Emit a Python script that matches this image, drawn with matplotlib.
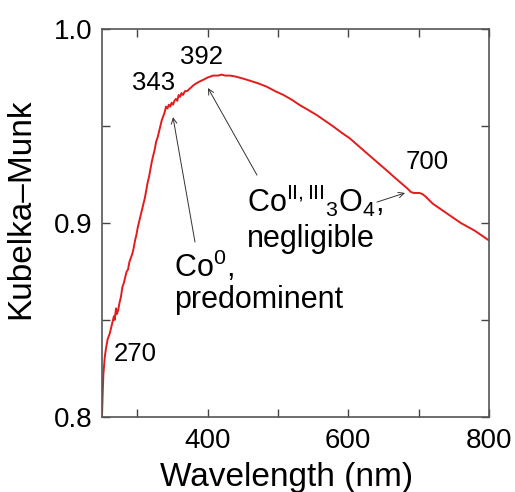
import matplotlib
import matplotlib.pyplot as plt

matplotlib.use("Agg")

plt.rcParams["font.family"] = ["Liberation Sans", "DejaVu Sans"]
plt.rcParams["mathtext.fontset"] = "custom"
plt.rcParams["mathtext.rm"] = "Liberation Sans"
plt.rcParams["mathtext.it"] = "Liberation Sans"

# diffuse reflectance spectrum, read point by point
wavelength = [
    250, 251, 252, 254, 256, 258, 261, 263, 265, 267, 268, 270, 271, 273, 275, 277,
    279, 281, 283, 285, 287, 289, 291, 293, 295, 297, 299, 301, 303, 305, 307, 309,
    311, 313, 315, 317, 319, 321, 323, 325, 327, 329, 331, 333, 335, 337, 339, 341,
    343, 345, 347, 349, 351, 353, 355, 357, 359, 361, 363, 365, 368, 371, 374, 377,
    380, 384, 389, 395, 400, 408, 415, 420, 425, 432, 440, 450, 460, 472, 484, 496,
    508, 520, 531, 543, 555, 567, 579, 590, 602, 614, 626, 640, 655, 668, 677, 684,
    689, 693, 697, 701, 705, 710, 720, 740, 760, 780, 800,
]
km = [
    0.800, 0.812, 0.822, 0.831, 0.836, 0.840, 0.843, 0.846, 0.849, 0.852, 0.850, 0.856,
    0.853, 0.855, 0.859, 0.862, 0.867, 0.869, 0.872, 0.875, 0.876, 0.880, 0.882, 0.884,
    0.887, 0.891, 0.894, 0.898, 0.901, 0.904, 0.907, 0.910, 0.913, 0.917, 0.921, 0.924,
    0.928, 0.932, 0.935, 0.938, 0.942, 0.944, 0.947, 0.950, 0.953, 0.955, 0.957, 0.960,
    0.959, 0.961, 0.960, 0.962, 0.961, 0.963, 0.964, 0.963, 0.966, 0.965, 0.967, 0.966,
    0.968, 0.968, 0.969, 0.970, 0.971, 0.972, 0.973, 0.974, 0.975, 0.976, 0.976, 0.9765,
    0.976, 0.976, 0.9755, 0.9745, 0.9734, 0.972, 0.9703, 0.968, 0.966, 0.9635, 0.9608,
    0.9583, 0.9557, 0.9527, 0.9497, 0.9467, 0.9437, 0.9399, 0.9361, 0.9317, 0.9270,
    0.9228, 0.920, 0.9178, 0.916, 0.9155, 0.9155, 0.9155, 0.915, 0.9136, 0.910, 0.905,
    0.900, 0.896, 0.891,
]

# peak labels: (text, x, y)
peaks = [("270", 298, 0.8325), ("343", 323, 0.9722), ("392", 392, 0.9858), ("700", 712, 0.9312)]

fig = plt.figure(figsize=(5.15, 4.92), dpi=100)
ax = fig.add_axes([0.198, 0.1524, 0.7515, 0.7886])

ax.plot(wavelength, km, color="#e41b1b", lw=1.4)

ax.set_xlim(250, 800)
ax.set_ylim(0.8, 1.0)
ax.set_xticks([400, 600, 800])
ax.set_xticks([300, 500, 700], minor=True)
ax.set_yticks([0.8, 0.9, 1.0])
ax.set_yticks([0.85, 0.95], minor=True)
ax.set_yticklabels(["0.8", "0.9", "1.0"])
ax.tick_params(which="both", direction="in", top=True, right=True, length=6, width=1,
               color="#444444", labelsize=20)
ax.tick_params(axis="x", pad=8)
ax.tick_params(axis="y", pad=7)
for sp in ax.spines.values():
    sp.set_color("#555555")
    sp.set_linewidth(1.2)

ax.set_xlabel("Wavelength (nm)", fontsize=24)
ax.set_ylabel("Kubelka\u2013Munk", fontsize=24)
ax.xaxis.set_label_coords(0.478, -0.115)
ax.yaxis.set_label_coords(-0.17, 0.536)

for txt, x, y in peaks:
    ax.text(x, y, txt, fontsize=18.5, ha="center", va="center")

arrow = dict(arrowstyle="->", color="#333333", lw=0.7, shrinkA=0, shrinkB=0)
ax.annotate("", xy=(350.9, 0.9546), xytext=(382.2, 0.8902), arrowprops=arrow)
ax.annotate("", xy=(400.6, 0.9696), xytext=(470.3, 0.9247), arrowprops=arrow)
ax.annotate("", xy=(680.6, 0.9155), xytext=(640.8, 0.9108), arrowprops=arrow)

ax.text(352, 0.8722, r"Co$^{0}$,", fontsize=22, ha="left", va="baseline")
ax.text(352, 0.8562, "predominent", fontsize=22, ha="left", va="baseline")
ax.text(456, 0.9057, r"Co$^{\rm II,III}$$_3$O$_4$,", fontsize=22, ha="left", va="baseline")
ax.text(456, 0.8876, "negligible", fontsize=22, ha="left", va="baseline")

fig.savefig("out.png", dpi=100)
